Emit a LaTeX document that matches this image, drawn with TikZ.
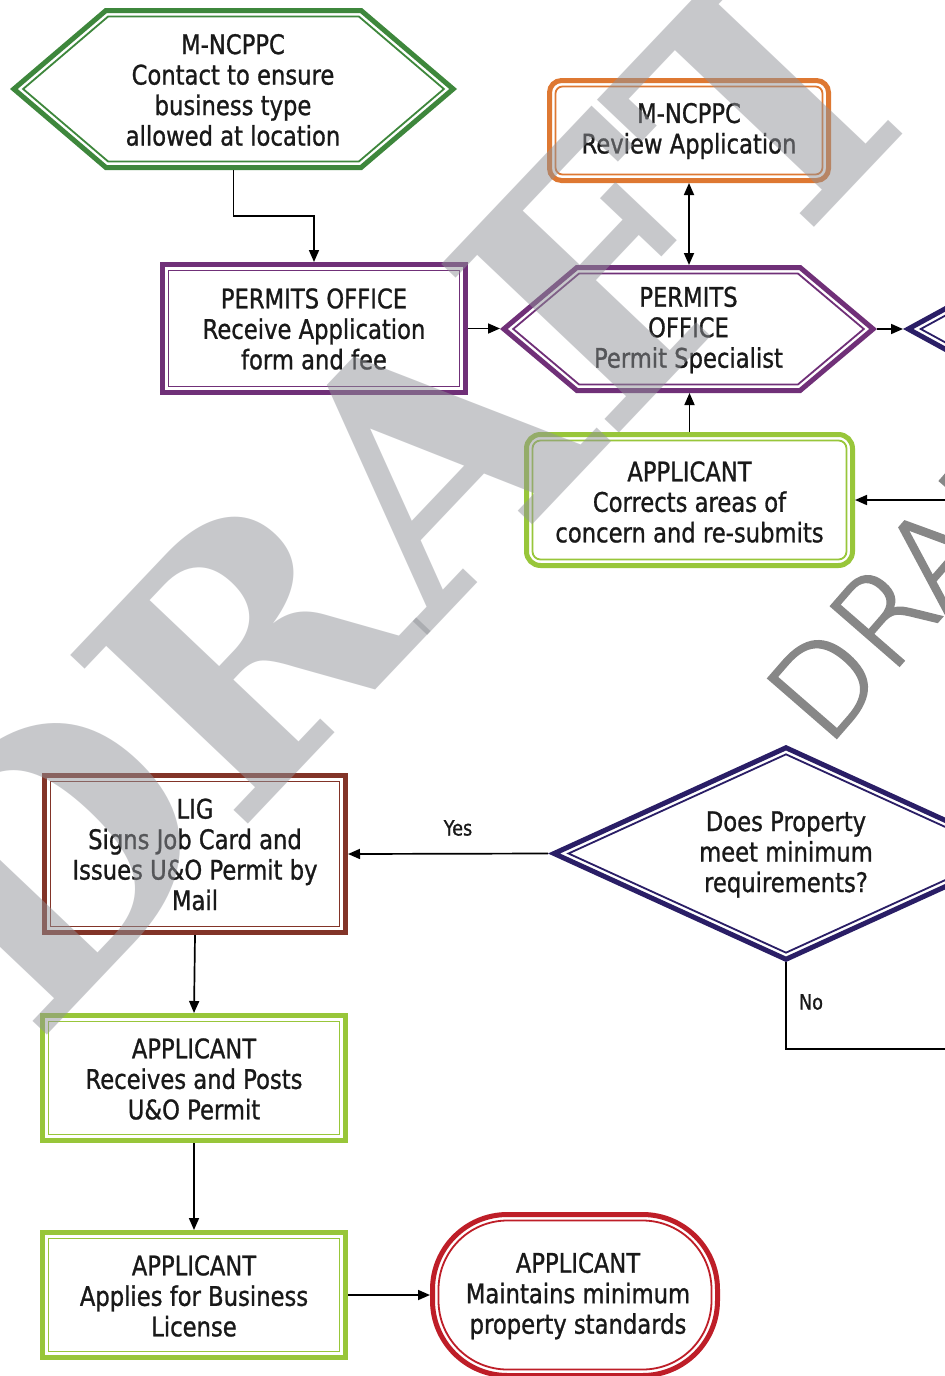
\documentclass[tikz,border=0pt]{standalone}
\usepackage{fontspec}
\setmainfont{DejaVu Sans}[FakeStretch=0.84,FakeBold=1]
\newfontfamily\wmserif{DejaVu Serif}
\newfontfamily\wmthin{DejaVuSans-ExtraLight.ttf}[FakeBold=2]
\usetikzlibrary{fit,arrows.meta}
\definecolor{cgreen}{RGB}{62,135,60}
\definecolor{corange}{RGB}{222,120,50}
\definecolor{cpurple}{RGB}{112,48,120}
\definecolor{clime}{RGB}{152,198,58}
\definecolor{cnavy}{RGB}{42,30,102}
\definecolor{cbrown}{RGB}{130,52,40}
\definecolor{cred}{RGB}{190,30,40}
\definecolor{txt}{RGB}{25,25,25}
\definecolor{wmgray}{RGB}{145,147,153}
\definecolor{wmlight}{RGB}{135,135,135}
\newcommand\mainsz{\fontsize{13.5pt}{15.25pt}\selectfont}
\newcommand\smallsz{\fontsize{10.5pt}{12pt}\selectfont}
% double-line hexagon: x1 y1 x2 y2 indent colour
\newcommand\dblhex[6]{%
  \pgfmathsetmacro\hyc{(#2+#4)/2}%
  \pgfmathsetmacro\hal{atan(((#4-#2)/2)/#5)}%
  \foreach \myd/\lw in {2.5/2.5pt,8.5/0.9pt}{%
    \pgfmathsetmacro\ht{\myd/sin(\hal)}%
    \pgfmathsetmacro\hc{\myd*tan(\hal/2)}%
    \draw[draw=#6,line width=\lw,line join=miter] (#1+\ht,\hyc) -- (#1+#5+\hc,#2+\myd) -- (#3-#5-\hc,#2+\myd) -- (#3-\ht,\hyc) -- (#3-#5-\hc,#4-\myd) -- (#1+#5+\hc,#4-\myd) -- cycle;
  }}
% double-line diamond: x1 y1 x2 y2 colour
\newcommand\dbldia[5]{%
  \pgfmathsetmacro\dxc{(#1+#3)/2}%
  \pgfmathsetmacro\dyc{(#2+#4)/2}%
  \pgfmathsetmacro\dal{atan(((#4-#2)/2)/((#3-#1)/2))}%
  \foreach \myd/\lw in {2.5/2.5pt,8.5/0.9pt}{%
    \pgfmathsetmacro\dtx{\myd/sin(\dal)}%
    \pgfmathsetmacro\dty{\myd/cos(\dal)}%
    \draw[draw=#5,line width=\lw] (#1+\dtx,\dyc) -- (\dxc,#2+\dty) -- (#3-\dtx,\dyc) -- (\dxc,#4-\dty) -- cycle;
  }}
% double-line rectangle: x1 y1 x2 y2 colour outer-opts inner-opts
\newcommand\dblrect[7]{%
  \draw[draw=#5,line width=2.5pt,#6] (#1+2.5,#2+2.5) rectangle (#3-2.5,#4-2.5);
  \draw[draw=#5,line width=0.9pt,#7] (#1+8.5,#2+8.5) rectangle (#3-8.5,#4-8.5);}
\begin{document}
\begin{tikzpicture}[x=0.5pt,y=-0.5pt,
  box/.style={inner sep=0pt, outer sep=0pt},
  lbl/.style={inner sep=0pt, outer sep=0pt, align=center, text=txt, font=\mainsz},
  arr/.style={draw=black, line width=0.85pt, -{Triangle[length=6pt,width=5pt]}},
  darr/.style={draw=black, line width=0.85pt, {Triangle[length=6pt,width=5pt]}-{Triangle[length=6pt,width=5pt]}},
  conn/.style={draw=black, line width=0.85pt},
  small/.style={inner sep=0pt, text=txt, font=\smallsz},
  wmbig/.style={text=wmgray, opacity=0.5, inner sep=0pt, font=\wmserif\bfseries\fontsize{168pt}{168pt}\selectfont},
  wmlite/.style={text=wmlight, inner sep=0pt, font=\wmthin\fontsize{62pt}{62pt}\selectfont}
]
\useasboundingbox (0,0) rectangle (945,1376);
\fill[white] (0,0) rectangle (945,1376);
\clip (0,0) rectangle (945,1376);

% shapes
\dblhex{10}{8}{457}{170}{95}{cgreen}
\dblrect{547}{78}{831}{183}{corange}{rounded corners=6pt}{rounded corners=3.5pt}
\dblrect{160}{262}{468}{395}{cpurple}{sharp corners}{sharp corners}
\dblhex{500}{265}{877}{393}{76}{cpurple}
\dbldia{903}{199}{1379}{459}{cnavy}
\dblrect{524}{432}{855}{568}{clime}{rounded corners=7pt}{rounded corners=4pt}
\dbldia{548}{745}{1024}{962}{cnavy}
\dblrect{42}{773}{348}{935}{cbrown}{sharp corners}{sharp corners}
\dblrect{40}{1013}{348}{1143}{clime}{sharp corners}{sharp corners}
\dblrect{40}{1230}{348}{1360}{clime}{sharp corners}{sharp corners}
\dblrect{430}{1212}{720}{1378}{cred}{rounded corners=37.5pt}{rounded corners=34.5pt}

% shape nodes (outlines above)
\node[box, fit={(10,8) (457,170)}] (mh) {};
\node[box, fit={(547,78) (831,183)}] (mr) {};
\node[box, fit={(160,262) (468,395)}] (po) {};
\node[box, fit={(500,265) (877,393)}] (ps) {};
\node[box, fit={(903,199) (1379,459)}] (rd) {};
\node[box, fit={(524,432) (855,568)}] (app1) {};
\node[box, fit={(548,745) (1024,962)}] (dia) {};
\node[box, fit={(42,773) (348,935)}] (lig) {};
\node[box, fit={(40,1013) (348,1143)}] (ap2) {};
\node[box, fit={(40,1230) (348,1360)}] (ap3) {};
\node[box, fit={(430,1212) (720,1378)}] (red) {};

% texts
\node[lbl] (mht) at (233,90) {M-NCPPC\\Contact to ensure\\business type\\allowed at location};
\node[lbl] (mrt) at (689,131) {M-NCPPC\\Review Application};
\node[lbl] (pot) at (314,329) {PERMITS OFFICE\\Receive Application\\form and fee};
\node[lbl] (pst) at (688.5,330) {PERMITS\\OFFICE\\Permit Specialist};
\node[lbl] (app1t) at (689.5,502) {APPLICANT\\Corrects areas of\\concern and re-submits};
\node[lbl] (diat) at (786,854.5) {Does Property\\meet minimum\\requirements?};
\node[lbl] (ligt) at (195,854.5) {LIG\\Signs Job Card and\\Issues U\&O Permit by\\Mail};
\node[lbl] (ap2t) at (194,1079) {APPLICANT\\Receives and Posts\\U\&O Permit};
\node[lbl] (ap3t) at (194,1296) {APPLICANT\\Applies for Business\\License};
\node[lbl] (redt) at (578,1296) {APPLICANT\\Maintains minimum\\property standards};

\node[small] (yes) at (458,828) {Yes};
\node[small] (no) at (811,1002) {No};

\coordinate (offr) at (945,500);
\coordinate (offno) at (945,1049);

% connectors
\draw[arr] (mh.south) -- ++(0,46) -| (po.north);
\draw[arr] (po.east) -- (po.east -| ps.west);
\draw[darr] (mr.south) -- (mr.south |- ps.north);
\draw[arr] (app1.north) -- (app1.north |- ps.south);
\draw[arr] (ps.east) -- (rd.west);
\draw[arr] (offr) -- (app1.east);
\draw[arr] (dia.west) -- (lig.east);
\draw[conn] (dia.south) |- (offno);
\draw[arr] (lig.south) -- (ap2.north);
\draw[arr] (ap2.south) -- (ap3.north);
\draw[arr] (ap3.east) -- (red.west);

% watermarks
\node[wmbig, rotate=46.5] (wm1) at (402,484) {DRAFT};
\node[wmlite, rotate=49] (wm2) at (926,566) {DRAFT};
\end{tikzpicture}
\end{document}
